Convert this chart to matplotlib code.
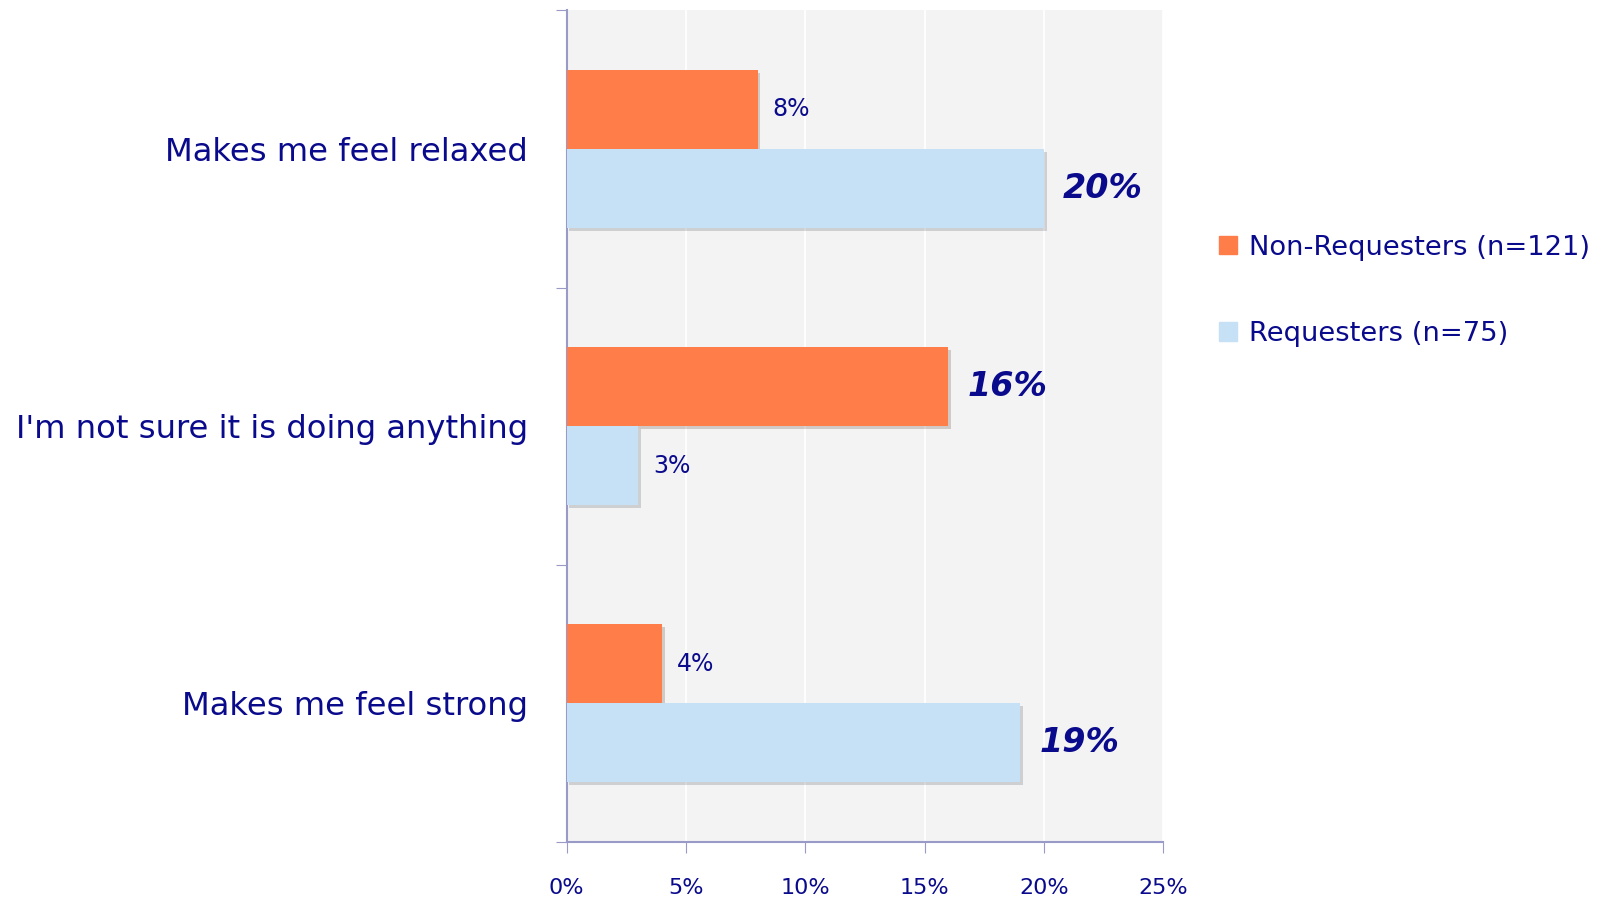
import matplotlib
matplotlib.use("Agg")
import matplotlib.pyplot as plt
import matplotlib.patheffects as pe
from matplotlib.patches import Patch
import numpy as np

categories = ["Makes me feel relaxed", "I'm not sure it is doing anything", "Makes me feel strong"]
non_requesters = [8, 16, 4]
requesters = [20, 3, 19]
series_names = ["Non-Requesters (n=121)", "Requesters (n=75)"]
x_ticks = [0, 5, 10, 15, 20, 25]

NAVY = "#0a0a8c"
ORANGE = "#ff7d48"
LIGHTBLUE = "#c6e0f5"
AXIS = "#9a9ac8"

fig = plt.figure(figsize=(16.1, 8.98), dpi=100)
ax = fig.add_axes([0.352, 0.0624, 0.3705, 0.9261])
ax.set_facecolor("#f3f3f3")

y = np.arange(len(categories))
h = 0.285
shadow = [pe.SimplePatchShadow(offset=(2, -2), alpha=0.2), pe.Normal()]
ax.barh(y - h / 2, non_requesters, height=h, color=ORANGE, path_effects=shadow, zorder=3)
ax.barh(y + h / 2, requesters, height=h, color=LIGHTBLUE, path_effects=shadow, zorder=3)

# value labels: big italic for the large ones
for vals, off in ((non_requesters, -h / 2), (requesters, h / 2)):
    for yi, v in zip(y, vals):
        if v >= 15:
            ax.text(v + 0.8, yi + off, f"{v}%", va="center", ha="left", color=NAVY,
                    fontsize=24, fontstyle="italic", fontweight="bold")
        else:
            ax.text(v + 0.62, yi + off, f"{v}%", va="center", ha="left", color=NAVY,
                    fontsize=17)

ax.set_xlim(0, 25)
ax.set_ylim(len(categories) - 0.5, -0.5)
ax.set_xticks(x_ticks)
ax.set_xticklabels([f"{t}%" for t in x_ticks], color=NAVY, fontsize=16)
ax.tick_params(axis="x", length=8, color=AXIS, pad=18)

ax.set_yticks(np.arange(len(categories) + 1) - 0.5)
ax.set_yticklabels([])
ax.set_yticks(y, minor=True)
ax.set_yticklabels(categories, minor=True, color=NAVY, fontsize=23.2)
ax.tick_params(axis="y", which="major", length=8, color=AXIS)
ax.tick_params(axis="y", which="minor", length=0, pad=28)

ax.grid(axis="x", color="white", linewidth=1.3, zorder=0)
ax.set_axisbelow(True)
for s in ("top", "right"):
    ax.spines[s].set_visible(False)
for s in ("left", "bottom"):
    ax.spines[s].set_color(AXIS)
    ax.spines[s].set_linewidth(1.5)

handles = [Patch(color=ORANGE), Patch(color=LIGHTBLUE)]
leg = fig.legend(handles, series_names, loc="center left", bbox_to_anchor=(0.742, 0.676),
                 frameon=False, fontsize=19.7, labelspacing=2.2, handlelength=0.65,
                 handleheight=0.65, handletextpad=0.45)
for t in leg.get_texts():
    t.set_color(NAVY)

fig.savefig("out.png", dpi=100)
